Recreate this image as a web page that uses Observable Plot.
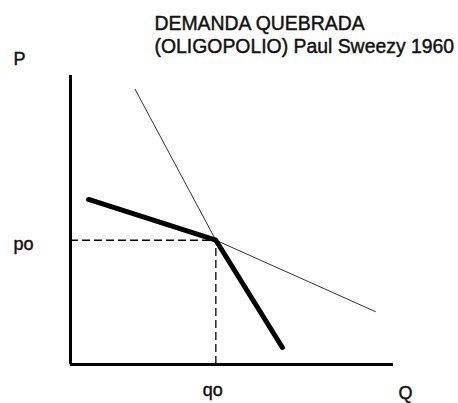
<!DOCTYPE html>
<html>
<head>
<meta charset="utf-8">
<script src="https://cdn.jsdelivr.net/npm/d3@7"></script>
<script src="https://cdn.jsdelivr.net/npm/@observablehq/plot@0.6"></script>
<style>
  html, body { margin: 0; padding: 0; background: #fff; }
  svg { display: block; }
</style>
</head>
<body>
<div id="chart"></div>
<script>
// Chart data (abstract units: Q on x, P on y, axes 0..10)
const titleLines = ["DEMANDA QUEBRADA", "(OLIGOPOLIO) Paul Sweezy 1960"];
const axisLabels = { p: "P", q: "Q", p0: "po", q0: "qo" };
const q0 = 4.5;
const p0 = 4.3;
// thin demand lines (two curves crossing at the kink)
const steepDemandQ = [2.0, q0];
const steepDemandP = [9.52, p0];
const flatDemandQ = [q0, 9.44];
const flatDemandP = [p0, 1.83];
// kinked (thick) demand curve
const kinkedQ = [0.56, q0, 6.56];
const kinkedP = [5.71, p0, 0.59];

const zip = (xs, ys) => xs.map((x, i) => ({ q: x, p: ys[i] }));

const fontFamily = "'Liberation Sans', Arial, sans-serif";
const textStyle = { fill: "#111", stroke: "#111", strokeWidth: 0.45 };

const chart = Plot.plot({
  width: 458,
  height: 403,
  marginTop: 0, marginRight: 0, marginBottom: 0, marginLeft: 0,
  style: { fontFamily, background: "#fff", overflow: "visible" },
  x: { domain: [0, 10], range: [70, 393], axis: null },
  y: { domain: [0, 10], range: [364, 75], axis: null },
  marks: [
    // axes
    Plot.ruleX([0], { y1: 0, y2: 10, stroke: "#000", strokeWidth: 3 }),
    Plot.ruleY([0], { x1: 0, x2: 10, stroke: "#000", strokeWidth: 3 }),
    // dashed guides
    Plot.ruleY([p0], { x1: 0, x2: q0, stroke: "#000", strokeWidth: 1.3, strokeDasharray: "8,4" }),
    Plot.ruleX([q0], { y1: 0, y2: p0, stroke: "#000", strokeWidth: 1.3, strokeDasharray: "8,4" }),
    // thin demand lines
    Plot.line(zip(steepDemandQ, steepDemandP), { x: "q", y: "p", stroke: "#333", strokeWidth: 1 }),
    Plot.line(zip(flatDemandQ, flatDemandP), { x: "q", y: "p", stroke: "#333", strokeWidth: 1 }),
    // kinked demand
    Plot.line(zip(kinkedQ, kinkedP), { x: "q", y: "p", stroke: "#000", strokeWidth: 5, strokeLinecap: "round", strokeLinejoin: "round" }),
    // axis labels
    Plot.text([axisLabels.p], { x: 0, y: 10, text: d => d, textAnchor: "start", lineAnchor: "top", dx: -57, dy: -23, fontSize: 18, ...textStyle }),
    Plot.text([axisLabels.p0], { x: 0, y: p0, text: d => d, textAnchor: "start", lineAnchor: "top", dx: -57, dy: -3.5, fontSize: 18, ...textStyle }),
    Plot.text([axisLabels.q0], { x: q0, y: 0, text: d => d, textAnchor: "middle", lineAnchor: "top", dx: -3, dy: 19, fontSize: 18, ...textStyle }),
    Plot.text([axisLabels.q], { x: 10, y: 0, text: d => d, textAnchor: "start", lineAnchor: "top", dx: 5, dy: 22, fontSize: 18, ...textStyle }),
    // title
    Plot.text([titleLines.join("\n")], { frameAnchor: "top-left", text: d => d, textAnchor: "start", lineAnchor: "top", dx: 154, dy: 13.5, fontSize: 19.4, lineHeight: 1.19, ...textStyle })
  ]
});
document.getElementById("chart").appendChild(chart);
</script>
</body>
</html>
